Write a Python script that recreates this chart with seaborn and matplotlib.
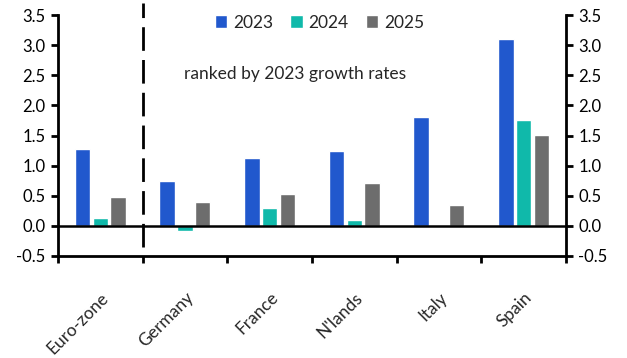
import matplotlib
matplotlib.use("Agg")
import matplotlib.pyplot as plt
import seaborn as sns
import pandas as pd
from matplotlib.patches import Patch

countries = ["Euro-zone", "Germany", "France", "N'lands", "Italy", "Spain"]
years = ["2023", "2024", "2025"]
g2023 = [1.28, 0.75, 1.13, 1.24, 1.81, 3.10]
g2024 = [0.13, -0.09, 0.30, 0.10, 0.00, 1.76]
g2025 = [0.48, 0.40, 0.53, 0.71, 0.35, 1.51]
colors = ["#2158CD", "#10B9AA", "#6D6D6D"]

rows = []
for yr, vals in zip(years, [g2023, g2024, g2025]):
    for c, v in zip(countries, vals):
        rows.append({"country": c, "year": yr, "value": v})
df = pd.DataFrame(rows)

sns.set_theme(style="white")
plt.rcParams["font.family"] = ["Lato", "DejaVu Sans"]

fig = plt.figure(figsize=(6.27, 3.58), dpi=100)
ax = fig.add_axes([0.0925, 0.285, 0.81, 0.673])

sns.barplot(data=df, x="country", y="value", hue="year", order=countries,
            hue_order=years, palette=colors, width=0.63, gap=0.13,
            saturation=1, legend=False, ax=ax)

ax.set_ylim(-0.5, 3.5)
ax.set_xlim(-0.5, 5.5)
ax.set_yticks([-0.5, 0, 0.5, 1, 1.5, 2, 2.5, 3, 3.5])
ax.set_yticklabels(["-0.5", "0.0", "0.5", "1.0", "1.5", "2.0", "2.5", "3.0", "3.5"])
ax.set_xlabel("")
ax.set_ylabel("")

for s in ["left", "right", "bottom"]:
    ax.spines[s].set_visible(True)
    ax.spines[s].set_linewidth(2)
    ax.spines[s].set_color("black")
ax.spines["top"].set_visible(False)

ax.axhline(0, color="black", lw=1.8, zorder=3)

ax.yaxis.set_ticks_position("both")
ax.tick_params(axis="y", which="major", direction="out", length=5, width=2,
               labelsize=12, colors="black", left=True, right=True,
               labelleft=True, labelright=True, pad=4)
ax.set_xticks(range(len(countries)))
ax.set_xticklabels(countries, rotation=45, ha="right", rotation_mode="anchor",
                   fontsize=12.5)
ax.tick_params(axis="x", which="major", length=0, pad=24)
ax.set_xticks([i - 0.5 for i in range(len(countries) + 1)], minor=True)
ax.tick_params(axis="x", which="minor", direction="out", length=5, width=2,
               bottom=True, color="black")

ax.plot([0.5, 0.5], [-0.35, 3.7], color="black", lw=2.0,
        linestyle=(0, (8.5, 3.3)), clip_on=False, zorder=4)

ax.text(0.467, (2.52 + 0.5) / 4.0, "ranked by 2023 growth rates",
        transform=ax.transAxes, fontsize=12.5, ha="center", va="center")

handles = [Patch(facecolor=c, label=y) for c, y in zip(colors, years)]
ax.legend(handles=handles, loc="upper center", bbox_to_anchor=(0.515, 1.045),
          ncol=3, frameon=False, fontsize=12.5, handlelength=0.7,
          handleheight=0.7, handletextpad=0.35, columnspacing=1.0,
          borderaxespad=0.2)

fig.savefig("out.png", dpi=100)
